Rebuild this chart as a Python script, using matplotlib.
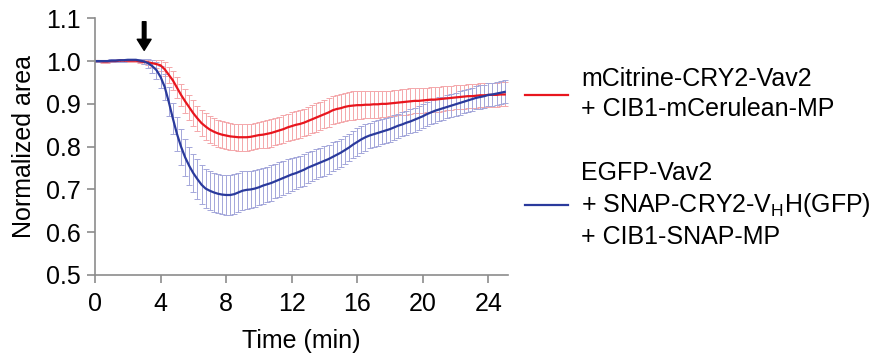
import numpy as np
import matplotlib
matplotlib.use("Agg")
import matplotlib.pyplot as plt
from matplotlib.lines import Line2D

plt.rcParams['font.family'] = ['Liberation Sans', 'DejaVu Sans']

# sampling step of the recording (min)
step = 0.25

# mCitrine-CRY2-Vav2 + CIB1-mCerulean-MP
red_mean = [
    1.000, 1.000, 0.999, 0.999, 1.000, 1.000, 1.001, 1.001, 1.001, 1.001,
    1.001, 0.999, 0.998, 0.997, 0.995, 0.993, 0.990, 0.981, 0.968, 0.955,
    0.938, 0.921, 0.906, 0.892, 0.878, 0.866, 0.855, 0.847, 0.840, 0.835,
    0.831, 0.828, 0.826, 0.824, 0.823, 0.822, 0.822, 0.822, 0.823, 0.825,
    0.827, 0.828, 0.830, 0.832, 0.835, 0.838, 0.841, 0.845, 0.848, 0.851,
    0.853, 0.856, 0.860, 0.864, 0.868, 0.872, 0.876, 0.880, 0.885, 0.888,
    0.890, 0.893, 0.895, 0.896, 0.897, 0.897, 0.898, 0.898, 0.899, 0.899,
    0.900, 0.900, 0.901, 0.902, 0.903, 0.904, 0.905, 0.906, 0.907, 0.907,
    0.908, 0.909, 0.910, 0.910, 0.911, 0.912, 0.913, 0.914, 0.915, 0.916,
    0.917, 0.918, 0.918, 0.919, 0.920, 0.920, 0.921, 0.921, 0.921, 0.922,
    0.922,
]
red_err = [
    0.003, 0.003, 0.003, 0.003, 0.003, 0.003, 0.003, 0.003, 0.003, 0.003,
    0.003, 0.004, 0.005, 0.006, 0.008, 0.010, 0.013, 0.016, 0.019, 0.022,
    0.024, 0.026, 0.028, 0.029, 0.030, 0.030, 0.030, 0.031, 0.031, 0.031,
    0.031, 0.031, 0.031, 0.031, 0.031, 0.031, 0.031, 0.031, 0.031, 0.031,
    0.031, 0.032, 0.032, 0.032, 0.032, 0.032, 0.032, 0.032, 0.032, 0.032,
    0.032, 0.032, 0.033, 0.033, 0.033, 0.033, 0.033, 0.033, 0.033, 0.033,
    0.033, 0.033, 0.033, 0.033, 0.032, 0.032, 0.032, 0.032, 0.031, 0.031,
    0.031, 0.031, 0.030, 0.030, 0.030, 0.030, 0.030, 0.030, 0.029, 0.029,
    0.029, 0.029, 0.029, 0.029, 0.029, 0.029, 0.028, 0.028, 0.028, 0.028,
    0.028, 0.028, 0.028, 0.028, 0.028, 0.028, 0.028, 0.028, 0.028, 0.028,
    0.028,
]

# EGFP-Vav2 + SNAP-CRY2-VHH(GFP) + CIB1-SNAP-MP
blue_mean = [
    1.000, 1.000, 1.000, 1.000, 1.001, 1.001, 1.002, 1.002, 1.003, 1.003,
    1.003, 1.001, 0.999, 0.995, 0.988, 0.979, 0.963, 0.940, 0.905, 0.866,
    0.830, 0.800, 0.775, 0.755, 0.738, 0.724, 0.711, 0.702, 0.697, 0.693,
    0.690, 0.688, 0.687, 0.687, 0.689, 0.693, 0.697, 0.699, 0.700, 0.702,
    0.705, 0.709, 0.712, 0.715, 0.719, 0.723, 0.727, 0.731, 0.735, 0.738,
    0.742, 0.746, 0.751, 0.755, 0.759, 0.763, 0.767, 0.771, 0.776, 0.781,
    0.786, 0.792, 0.798, 0.805, 0.811, 0.817, 0.822, 0.826, 0.829, 0.832,
    0.835, 0.838, 0.841, 0.845, 0.849, 0.852, 0.856, 0.859, 0.863, 0.867,
    0.871, 0.876, 0.880, 0.884, 0.887, 0.890, 0.893, 0.896, 0.899, 0.902,
    0.905, 0.908, 0.911, 0.914, 0.916, 0.918, 0.921, 0.922, 0.924, 0.926,
    0.928,
]
blue_err = [
    0.003, 0.003, 0.003, 0.003, 0.003, 0.003, 0.003, 0.003, 0.003, 0.003,
    0.003, 0.004, 0.006, 0.010, 0.015, 0.020, 0.025, 0.030, 0.034, 0.037,
    0.040, 0.042, 0.044, 0.045, 0.045, 0.046, 0.046, 0.046, 0.046, 0.046,
    0.046, 0.046, 0.046, 0.046, 0.046, 0.045, 0.045, 0.044, 0.043, 0.043,
    0.042, 0.042, 0.041, 0.041, 0.040, 0.040, 0.039, 0.039, 0.038, 0.038,
    0.037, 0.037, 0.036, 0.036, 0.035, 0.035, 0.035, 0.034, 0.034, 0.033,
    0.033, 0.033, 0.032, 0.032, 0.032, 0.031, 0.031, 0.030, 0.030, 0.030,
    0.029, 0.029, 0.029, 0.029, 0.028, 0.028, 0.028, 0.028, 0.028, 0.028,
    0.028, 0.028, 0.028, 0.028, 0.028, 0.027, 0.027, 0.027, 0.027, 0.027,
    0.027, 0.027, 0.027, 0.027, 0.027, 0.027, 0.027, 0.027, 0.027, 0.027,
    0.027,
]

stim_time = 3.0
labels = ["mCitrine-CRY2-Vav2\n+ CIB1-mCerulean-MP",
          "EGFP-Vav2\n+ SNAP-CRY2-V$_\\mathregular{H}$H(GFP)\n+ CIB1-SNAP-MP"]
xticks = [0, 4, 8, 12, 16, 20, 24]
yticks = [0.5, 0.6, 0.7, 0.8, 0.9, 1.0, 1.1]

t = np.arange(len(red_mean)) * step
fs = 18

fig = plt.figure(figsize=(8.73, 3.54), dpi=100)
ax = fig.add_axes([95 / 873, 1 - 275 / 354, (508 - 95) / 873, (275 - 18.3) / 354])

red_c, blue_c = '#e8161e', '#2a3a9c'
ax.errorbar(t, red_mean, yerr=red_err, fmt='none', ecolor='#f4a8ab',
            elinewidth=0.7, capsize=2.5, capthick=0.7)
ax.errorbar(t, blue_mean, yerr=blue_err, fmt='none', ecolor='#a4a7da',
            elinewidth=0.7, capsize=2.5, capthick=0.7)
ax.plot(t, red_mean, color=red_c, lw=1.6)
ax.plot(t, blue_mean, color=blue_c, lw=1.6)

# stimulation arrow
ax.annotate('', xy=(stim_time, 1.025), xytext=(stim_time, 1.092),
            arrowprops=dict(facecolor='black', edgecolor='black',
                            width=2.6, headwidth=10, headlength=8))

ax.set_xlim(0, 25.2)
ax.set_ylim(0.5, 1.1)
ax.set_xticks(xticks)
ax.set_yticks(yticks)
ax.set_yticklabels([f"{v:.1f}" for v in yticks])
for s in ['top', 'right']:
    ax.spines[s].set_visible(False)
for s in ['left', 'bottom']:
    ax.spines[s].set_color('#8c8c8c')
    ax.spines[s].set_linewidth(1.2)
ax.tick_params(colors='#8c8c8c', labelcolor='black', labelsize=fs,
               width=1.2, length=5.5, direction='out')
ax.tick_params(axis='x', pad=7)
ax.tick_params(axis='y', pad=5)
ax.set_xlabel("Time (min)", fontsize=fs, labelpad=9)
ax.set_ylabel("Normalized area", fontsize=fs, labelpad=7)

handles = [Line2D([], [], color=red_c, lw=1.6), Line2D([], [], color=blue_c, lw=1.6)]
leg = ax.legend(handles, labels, loc='upper left',
                bbox_to_anchor=(525 / 873, 1 - 67 / 354), bbox_transform=fig.transFigure,
                frameon=False, fontsize=fs, handlelength=1.7, handletextpad=0.55,
                labelspacing=1.6, borderpad=0, borderaxespad=0)
for txt in leg.get_texts():
    txt.set_linespacing(1.3)

fig.savefig('out.png', dpi=100)
